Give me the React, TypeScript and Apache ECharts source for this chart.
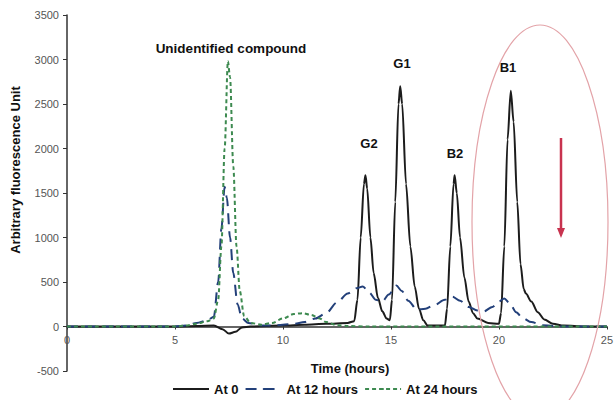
import React, { useEffect, useRef } from "react";
import * as echarts from "echarts";

// Time (hours) and fluorescence values
const at0Time = [0, 5, 6, 6.8, 7.2, 7.5, 7.8, 8.1, 8.5, 10, 11, 12, 13, 13.3, 13.45, 13.6, 13.75, 13.82, 13.9, 14.05, 14.2, 14.4, 14.6, 14.8, 14.95, 15.05, 15.2, 15.35, 15.43, 15.52, 15.7, 15.9, 16.1, 16.3, 16.5, 16.7, 17.5, 17.6, 17.75, 17.9, 17.95, 18.05, 18.2, 18.4, 18.6, 18.8, 19.0, 19.5, 20.0, 20.1, 20.25, 20.4, 20.55, 20.68, 20.85, 21.0, 21.15, 21.25, 21.5, 21.8, 22.1, 22.5, 23, 24, 25];
const at0Values = [0, 0, 5, 10, -30, -80, -60, -10, 0, 10, 20, 30, 40, 60, 300, 1000, 1600, 1700, 1550, 1000, 600, 320, 170, 90, 70, 300, 1400, 2500, 2700, 2500, 1600, 900, 450, 200, 70, 10, 10, 200, 900, 1600, 1700, 1500, 1000, 550, 280, 150, 90, 40, 30, 150, 900, 2100, 2650, 2300, 1400, 700, 420, 370, 280, 160, 80, 30, 10, 0, 0];

const at12Time = [0, 5, 5.5, 6, 6.5, 6.8, 7.0, 7.15, 7.3, 7.4, 7.55, 7.7, 7.9, 8.1, 8.4, 9, 9.5, 10, 10.5, 11, 11.5, 12, 12.5, 13, 13.4, 13.7, 14.0, 14.3, 14.6, 14.9, 15.25, 15.5, 15.8, 16.2, 16.6, 17.0, 17.5, 17.85, 18.2, 18.6, 19.0, 19.3, 19.7, 20.0, 20.25, 20.5, 20.8, 21.1, 21.5, 22.0, 22.5, 23, 25];
const at12Values = [0, 0, 10, 40, 70, 110, 500, 1100, 1570, 1450, 1000, 600, 250, 90, 40, 10, 10, 20, 30, 50, 90, 150, 270, 370, 430, 450, 380, 300, 280, 360, 460, 400, 290, 190, 200, 240, 300, 335, 290, 220, 180, 170, 220, 280, 315, 260, 160, 95, 50, 15, 5, 0, 0];

const at24Time = [0, 5, 5.5, 6, 6.5, 6.8, 7.0, 7.15, 7.3, 7.45, 7.55, 7.7, 7.85, 8.0, 8.2, 8.5, 9, 9.5, 10, 10.5, 10.9, 11.3, 11.7, 12.0, 12.5, 13, 14, 25];
const at24Values = [0, 0, 10, 30, 60, 90, 300, 900, 2000, 2980, 2800, 1800, 900, 400, 120, 40, 20, 40, 90, 140, 150, 130, 90, 50, 15, 5, 0, 0];

const seriesNames = ["At 0", "At 12 hours", "At 24 hours"];
const xTicks = { min: 0, max: 25, interval: 5 };
const yTicks = { min: -500, max: 3500, interval: 500 };

const FONT = "'Liberation Sans', Arial, sans-serif";

const zip = (t: number[], v: number[]) => t.map((x, i) => [x, v[i]]);

export default function App() {
  const ref = useRef<HTMLDivElement>(null);
  useEffect(() => {
    if (!ref.current) return;
    const chart = echarts.init(ref.current, undefined, { renderer: "svg" });
    const gridTop = 15;
    const gridBottom = 29;
    const plotH = 400 - gridTop - gridBottom;
    // distance from the bottom of the plot to the zero line
    const zeroOffset = (plotH * (0 - yTicks.min)) / (yTicks.max - yTicks.min);
    const peakLabel = (text: string, x: number, y: number, size = 13) => ({
      type: "text",
      x,
      y,
      z: 100,
      style: {
        text,
        fill: "#111",
        font: `bold ${size}px ${FONT}`,
        textAlign: "center",
        textVerticalAlign: "middle",
      },
    });
    chart.setOption({
      animation: false,
      backgroundColor: "#fff",
      grid: { left: 67, right: 4, top: gridTop, bottom: gridBottom },
      xAxis: {
        type: "value",
        min: xTicks.min,
        max: xTicks.max,
        interval: xTicks.interval,
        offset: -zeroOffset,
        axisLine: { onZero: false, lineStyle: { color: "#333", width: 1.5 } },
        axisTick: { show: true, length: 3, lineStyle: { color: "#333" } },
        axisLabel: { color: "#555", fontSize: 11, fontFamily: FONT, margin: 8 },
        splitLine: { show: false },
      },
      yAxis: {
        type: "value",
        min: yTicks.min,
        max: yTicks.max,
        interval: yTicks.interval,
        axisLine: { show: true, onZero: false, lineStyle: { color: "#333", width: 1.5 } },
        axisTick: { show: true, length: 4, lineStyle: { color: "#333" } },
        axisLabel: {
          color: "#555",
          fontSize: 11,
          fontFamily: FONT,
          margin: 8,
          formatter: (v: number) => String(v),
        },
        splitLine: { show: false },
      },
      legend: {
        left: 167,
        top: 379,
        padding: [3, 5, 3, 5],
        itemWidth: 36,
        itemHeight: 2,
        itemGap: 6,
        textStyle: { color: "#111", fontSize: 13, lineHeight: 14, fontWeight: "bold", fontFamily: FONT },
        data: seriesNames,
      },
      series: [
        {
          name: seriesNames[0],
          type: "line",
          data: zip(at0Time, at0Values),
          showSymbol: false,
          symbol: "none",
          smooth: 0.3,
          smoothMonotone: "x",
          lineStyle: { color: "#1c1c1c", width: 2 },
          itemStyle: { color: "#1c1c1c" },
          z: 2,
        },
        {
          name: seriesNames[1],
          type: "line",
          data: zip(at12Time, at12Values),
          showSymbol: false,
          symbol: "none",
          smooth: 0.3,
          smoothMonotone: "x",
          lineStyle: { color: "#23407a", width: 2, type: [11, 7] },
          itemStyle: { color: "#23407a" },
          z: 3,
        },
        {
          name: seriesNames[2],
          type: "line",
          data: zip(at24Time, at24Values),
          showSymbol: false,
          symbol: "none",
          smooth: 0.3,
          smoothMonotone: "x",
          lineStyle: { color: "#3d8a50", width: 2, type: [4, 3] },
          itemStyle: { color: "#3d8a50" },
          z: 4,
        },
      ],
      graphic: [
        peakLabel("Unidentified compound", 231, 48, 13.5),
        peakLabel("G2", 369, 143),
        peakLabel("G1", 402, 63),
        peakLabel("B2", 455, 153),
        peakLabel("B1", 508, 67),
        {
          type: "text",
          x: 350,
          y: 368,
          style: {
            text: "Time (hours)",
            fill: "#111",
            font: `bold 13px ${FONT}`,
            textAlign: "center",
            textVerticalAlign: "middle",
          },
        },
        {
          type: "text",
          x: 15,
          y: 170,
          rotation: Math.PI / 2,
          style: {
            text: "Arbitrary fluorescence Unit",
            fill: "#111",
            font: `bold 13px ${FONT}`,
            textAlign: "center",
            textVerticalAlign: "middle",
          },
        },
        {
          type: "ellipse",
          shape: { cx: 540, cy: 222, rx: 68, ry: 197 },
          style: { fill: "none", stroke: "#e3a3a8", lineWidth: 1.2 },
          z: 50,
        },
        {
          type: "line",
          shape: { x1: 561, y1: 138, x2: 561, y2: 230 },
          style: { stroke: "#c8334f", lineWidth: 2.5 },
          z: 50,
        },
        {
          type: "polygon",
          shape: { points: [[557, 228], [565, 228], [561, 238]] },
          style: { fill: "#c8334f" },
          z: 50,
        },
      ],
    });
    return () => chart.dispose();
  }, []);
  return (
    <div
      ref={ref}
      style={{ position: "fixed", left: 0, top: 0, width: 616, height: 400 }}
    />
  );
}
